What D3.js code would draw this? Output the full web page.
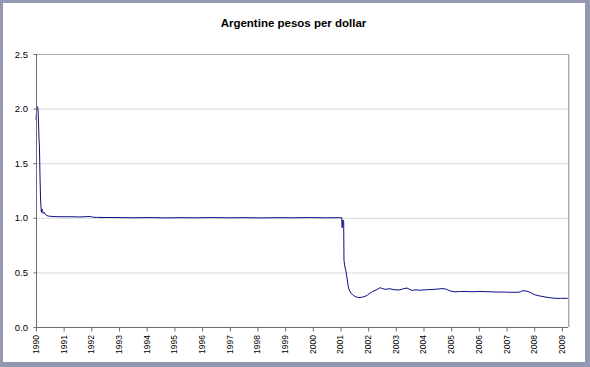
<!DOCTYPE html>
<html>
<head>
<meta charset="utf-8">
<script src="https://cdn.jsdelivr.net/npm/d3@7"></script>
<style>
  body { margin: 0; background: #fff; }
  svg { display: block; }
  text { font-family: "Liberation Sans", Arial, sans-serif; }
</style>
</head>
<body>
<svg width="590" height="367"></svg>
<script>
// series: date + value
const dates = [
  '1990-01-02', '1990-01-08', '1990-01-14', '1990-01-22', '1990-01-28',
  '1990-02-04', '1990-02-10', '1990-02-16', '1990-02-22', '1990-03-01',
  '1990-03-07', '1990-03-13', '1990-03-20', '1990-03-28', '1990-04-06',
  '1990-04-18', '1990-05-05', '1990-05-25', '1990-06-20', '1990-08-15',
  '1990-11-01', '1991-03-01', '1991-08-01', '1991-12-20', '1992-01-20',
  '1992-03-10', '1992-07-01', '1993-01-15', '1993-08-01', '1994-02-01',
  '1994-09-01', '1995-04-01', '1995-11-01', '1996-06-01', '1997-01-01',
  '1997-08-01', '1998-03-01', '1998-10-01', '1999-05-01', '1999-12-01',
  '2000-07-01', '2000-12-15', '2001-01-17', '2001-01-23', '2001-01-31',
  '2001-02-12', '2001-02-16', '2001-02-26', '2001-03-14', '2001-03-30',
  '2001-04-13', '2001-04-26', '2001-05-18', '2001-06-12', '2001-07-10',
  '2001-08-12', '2001-09-15', '2001-10-18', '2001-11-20', '2001-12-22',
  '2002-01-25', '2002-03-01', '2002-04-22', '2002-06-05', '2002-07-10',
  '2002-08-10', '2002-10-16', '2002-12-20', '2003-02-24', '2003-04-10',
  '2003-05-26', '2003-07-30', '2003-09-20', '2003-11-13', '2004-01-20',
  '2004-03-25', '2004-06-01', '2004-09-13', '2004-11-01', '2004-12-17',
  '2005-02-21', '2005-05-01', '2005-07-01', '2005-10-15', '2006-01-15',
  '2006-05-01', '2006-08-26', '2006-12-01', '2007-02-14', '2007-05-30',
  '2007-07-01', '2007-08-04', '2007-09-27', '2007-11-06', '2007-12-10',
  '2008-01-10', '2008-03-10', '2008-05-22', '2008-08-01', '2008-10-01',
  '2008-12-15', '2009-03-20'
];
const values = [
  1.90, 1.97, 2.02, 2.01, 1.99,
  1.86, 1.72, 1.64, 1.40, 1.20,
  1.11, 1.05, 1.08, 1.06, 1.04,
  1.05, 1.03, 1.02, 1.015, 1.012,
  1.010, 1.010, 1.008, 1.012, 1.006,
  1.004, 1.003, 1.002, 1.000, 1.002,
  0.999, 1.001, 1.000, 1.002, 1.000,
  1.001, 0.999, 1.001, 1.000, 1.002,
  1.000, 1.001, 1.000, 0.91, 0.98,
  0.97, 0.61, 0.56, 0.51, 0.44,
  0.37, 0.34, 0.31, 0.295, 0.28,
  0.272, 0.270, 0.274, 0.280, 0.292,
  0.310, 0.325, 0.340, 0.360, 0.352,
  0.345, 0.350, 0.340, 0.340, 0.350,
  0.357, 0.335, 0.340, 0.337, 0.340,
  0.343, 0.345, 0.352, 0.345, 0.330,
  0.322, 0.325, 0.325, 0.323, 0.325,
  0.323, 0.320, 0.320, 0.318, 0.318,
  0.322, 0.333, 0.328, 0.318, 0.305,
  0.295, 0.285, 0.275, 0.268, 0.263,
  0.262, 0.263
];
const yTickValues = [0, 0.5, 1.0, 1.5, 2.0, 2.5];
const years = d3.range(1990, 2010);
const title = 'Argentine pesos per dollar';

const svg = d3.select('svg');
const width = +svg.attr('width');
const height = +svg.attr('height');
const margin = { left: 36, right: 22, top: 54, bottom: 40 };
const innerWidth = width - margin.left - margin.right;
const innerHeight = height - margin.top - margin.bottom;

// frame: grey-blue border round a white chart area
svg.append('rect')
  .attr('x', 1.5).attr('y', 1.5)
  .attr('width', 585).attr('height', 362)
  .attr('fill', '#fff')
  .attr('stroke', '#9198b0')
  .attr('stroke-width', 3);
svg.append('line')
  .attr('x1', 587.5).attr('x2', 587.5).attr('y1', 0).attr('y2', height)
  .attr('stroke', '#9198b0').attr('stroke-width', 5);
svg.append('line')
  .attr('x1', 0).attr('x2', width).attr('y1', 364.5).attr('y2', 364.5)
  .attr('stroke', '#9198b0').attr('stroke-width', 5);

svg.append('text')
  .attr('x', 293.5)
  .attr('y', 26.5)
  .attr('text-anchor', 'middle')
  .attr('font-size', 11.5)
  .attr('font-weight', 'bold')
  .attr('fill', '#000')
  .text(title);

const data = dates.map((d, i) => ({ date: new Date(d + 'T00:00:00'), value: values[i] }));

// scales in page coordinates
const xScale = d3.scaleTime()
  .domain([new Date('1990-01-01T00:00:00'), new Date('2009-03-22T00:00:00')])
  .range([margin.left, margin.left + innerWidth]);
const yScale = d3.scaleLinear()
  .domain([0, 2.5])
  .range([margin.top + innerHeight, margin.top]);

const x0 = margin.left, x1 = margin.left + innerWidth;
const yBottom = margin.top + innerHeight;

// gridlines
svg.append('g').selectAll('line')
  .data(yTickValues.filter(v => v > 0 && v < 2.5))
  .enter().append('line')
  .attr('x1', x0).attr('x2', x1)
  .attr('y1', d => yScale(d) + 0.5).attr('y2', d => yScale(d) + 0.5)
  .attr('stroke', '#d9d9d9').attr('stroke-width', 1);

// plot area border top / right
svg.append('line')
  .attr('x1', x0).attr('x2', x1 + 0.5)
  .attr('y1', margin.top + 0.5).attr('y2', margin.top + 0.5)
  .attr('stroke', '#a8a8a8');
svg.append('line')
  .attr('x1', x1 + 0.5).attr('x2', x1 + 0.5)
  .attr('y1', margin.top).attr('y2', yBottom)
  .attr('stroke', '#a8a8a8');
svg.append('line')
  .attr('x1', x1 + 1.5).attr('x2', x1 + 1.5)
  .attr('y1', margin.top + 1).attr('y2', yBottom + 1)
  .attr('stroke', '#dcdcdc');

const line = d3.line()
  .x(d => xScale(d.date))
  .y(d => yScale(d.value))
  .curve(d3.curveLinear);

svg.append('path')
  .datum(data)
  .attr('fill', 'none')
  .attr('stroke', '#0c0c86')
  .attr('stroke-width', 1)
  .attr('stroke-linejoin', 'round')
  .attr('d', line);

// y axis (line + ticks from d3, labels placed separately)
const yAxis = d3.axisLeft(yScale)
  .tickValues(yTickValues)
  .tickFormat('')
  .tickSize(3);
const yAxisG = svg.append('g').attr('transform', `translate(${x0 + 0.5},0)`).call(yAxis);
yAxisG.select('.domain').attr('stroke', '#6e6e6e').attr('d', `M0,${margin.top}V${yBottom}`);
yAxisG.selectAll('.tick line').attr('stroke', '#6e6e6e');

svg.append('g').selectAll('text')
  .data(yTickValues)
  .enter().append('text')
  .attr('x', x0 - 8)
  .attr('y', d => yScale(d) + 3.5)
  .attr('text-anchor', 'end')
  .attr('font-size', 9.5)
  .attr('fill', '#000')
  .text(d => d3.format('.1f')(d));

// x axis
const xAxis = d3.axisBottom(xScale)
  .tickValues(years.map(y => new Date(y, 0, 1)))
  .tickFormat('')
  .tickSize(4);
const xAxisG = svg.append('g').attr('transform', `translate(0,${yBottom + 0.5})`).call(xAxis);
xAxisG.select('.domain').attr('stroke', '#6e6e6e').attr('d', `M${x0},0H${x1}`);
xAxisG.selectAll('.tick line').attr('stroke', '#6e6e6e');

svg.append('g').selectAll('text')
  .data(years)
  .enter().append('text')
  .attr('transform', d => `translate(${xScale(new Date(d, 0, 1)) + 3},${yBottom + 8}) rotate(-90)`)
  .attr('text-anchor', 'end')
  .attr('font-size', 8.5)
  .attr('fill', '#000')
  .text(d => d);
</script>
</body>
</html>
